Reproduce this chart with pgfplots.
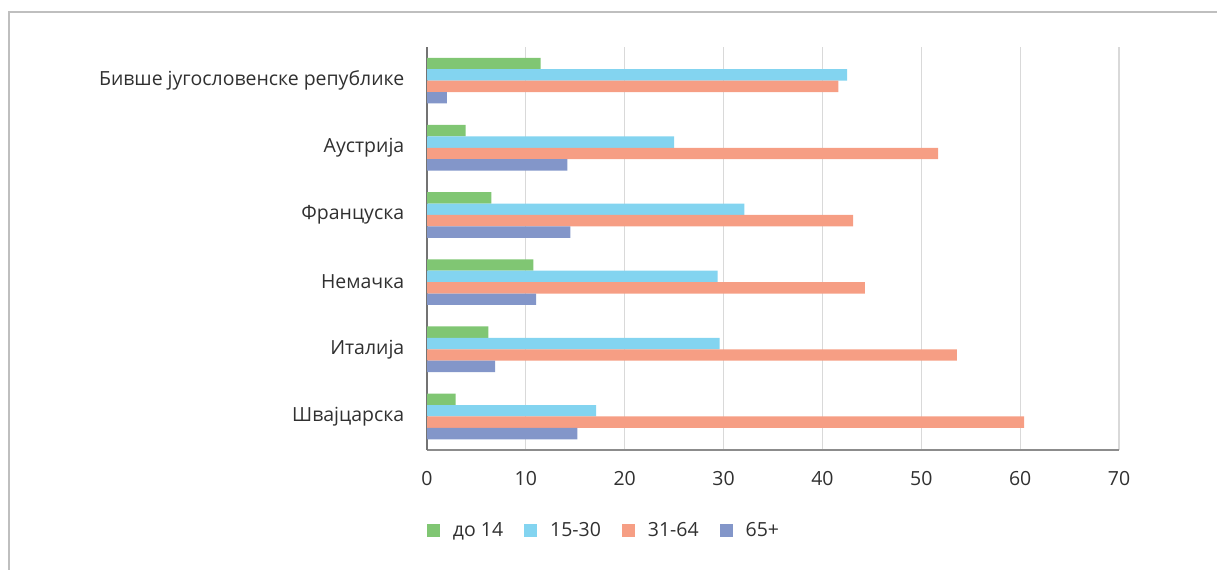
\documentclass[border=0pt]{standalone}
\usepackage{pgfplots}
\pgfplotsset{compat=1.18}
\usepackage{fontspec}
\setmainfont{Open Sans}
\definecolor{cgreen}{HTML}{80C673}
\definecolor{cblue}{HTML}{83D4F0}
\definecolor{corange}{HTML}{F69E84}
\definecolor{cpurple}{HTML}{8396C9}
\definecolor{txt}{HTML}{303030}
\begin{document}
\fontsize{14.6}{17.5}\selectfont
\begin{tikzpicture}
\useasboundingbox (0pt,0pt) rectangle (912.75pt,426.75pt);
\draw[color=black!25, line width=1.6pt] (6.75pt,-30pt) rectangle (960pt,417.75pt);
\begin{axis}[
  at={(320.25pt,89.25pt)}, anchor=south west,
  scale only axis, width=519pt, height=302.25pt,
  xbar, bar width=0.17,
  xmin=0, xmax=70, xtick={0,10,...,70},
  ymin=-0.5, ymax=5.5, ytick={0,...,5},
  yticklabels={Швајцарска,Италија,Немачка,Француска,Аустрија,Бивше југословенске републике},
  axis x line*=bottom, axis y line*=left,
  x axis line style={color=black!45, line width=1.1pt, -},
  y axis line style={color=black!55, line width=1.5pt, -},
  xmajorgrids, grid style={color=black!15, line width=0.9pt},
  major tick length=0pt,
  tick label style={color=txt},
  /pgf/number format/assume math mode=true,
  xticklabel style={yshift=-11pt},
  yticklabel style={xshift=-12pt},
  legend columns=4,
  legend style={draw=none, at={(0.0,-0.2)}, anchor=west, inner sep=0pt, font=\color{txt},
    /tikz/every odd column/.append style={column sep=7.5pt},
    /tikz/every even column/.append style={column sep=14pt}},
  legend image code/.code={\fill[#1, draw=none] (0pt,-4.9pt) rectangle (9.75pt,4.9pt);},
]
\addplot[fill=cgreen, draw=none, bar shift=0.255] coordinates {(2.9,0) (6.2,1) (10.75,2) (6.5,3) (3.9,4) (11.5,5)};
\addplot[fill=cblue, draw=none, bar shift=0.085] coordinates {(17.1,0) (29.6,1) (29.4,2) (32.1,3) (25.0,4) (42.5,5)};
\addplot[fill=corange, draw=none, bar shift=-0.085] coordinates {(60.4,0) (53.6,1) (44.3,2) (43.1,3) (51.7,4) (41.6,5)};
\addplot[fill=cpurple, draw=none, bar shift=-0.255] coordinates {(15.2,0) (6.9,1) (11.05,2) (14.5,3) (14.2,4) (2.0,5)};
\legend{до 14, 15-30, 31-64, 65+}
\end{axis}
\end{tikzpicture}
\end{document}
